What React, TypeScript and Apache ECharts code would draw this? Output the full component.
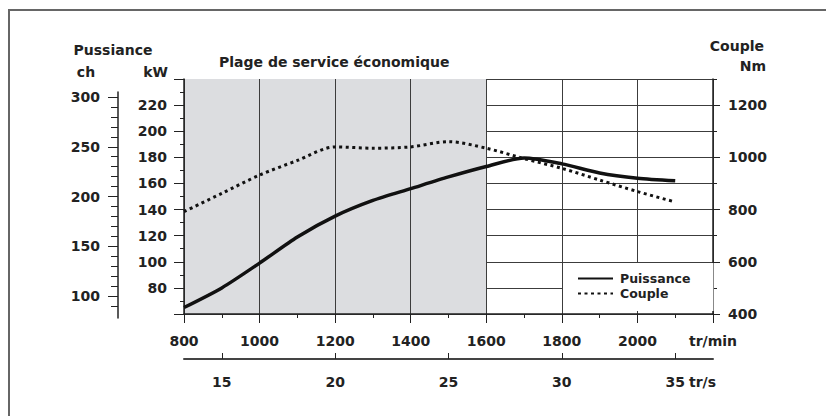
import React, { useEffect, useRef } from "react";
import * as echarts from "echarts";

// ---- data ----
const RPM = [800, 900, 1000, 1100, 1200, 1300, 1400, 1500, 1600, 1700, 1800, 1900, 2000, 2100];
const PUISSANCE_KW = [65, 80, 99, 119, 135, 147, 156, 165, 173, 179.5, 175, 168, 164, 162];
const COUPLE_NM = [792, 862, 932, 988, 1040, 1035, 1040, 1060, 1035, 995, 958, 913, 869, 829];

const SERIES_NAMES = ["Puissance", "Couple"];

// ---- axes / ticks ----
const RPM_MIN = 800;
const RPM_MAX = 2200;
const RPM_STEP = 200;
const ECO_RANGE_END = 1600; // "Plage de service économique" 800..1600

const KW_MIN = 60;
const KW_MAX = 240;
const KW_STEP = 20;

const NM_MIN = 400;
const NM_MAX = 1300;
const NM_MAJOR = [400, 600, 800, 1000, 1200];
const NM_MINOR = [500, 700, 900, 1100, 1300];

const CH_MIN = 78;
const CH_MAX = 305;
const CH_MAJOR = [100, 150, 200, 250, 300];
const CH_MINOR = [90, 110, 120, 130, 140, 160, 170, 180, 190, 210, 220, 230, 240, 260, 270, 280, 290];

const TRS_TICKS = [15, 20, 25, 30, 35];

const FONT = "'DejaVu Sans', 'Liberation Sans', sans-serif";
const TXT = "#222";
const AXIS = "#222";
const GRIDC = "#3c3c3c";
const SHADE = "#dcdde0";

export default function App() {
  const ref = useRef<HTMLDivElement>(null);

  useEffect(() => {
    if (!ref.current) return;
    const chart = echarts.init(ref.current, undefined, { renderer: "svg" });

    const nIntervals = (RPM_MAX - RPM_MIN) / RPM_STEP;
    const shadeColors: string[] = [];
    for (let i = 0; i < nIntervals; i++) {
      const start = RPM_MIN + i * RPM_STEP;
      shadeColors.push(start < ECO_RANGE_END ? SHADE : "rgba(255,255,255,0)");
    }

    const label = { fontFamily: FONT, fontWeight: "bold" as const, fontSize: 14, color: TXT };
    const plain = (v: number) => String(v);

    const option: any = {
      animation: false,
      backgroundColor: "#fff",
      grid: [
        { left: 184, top: 79, width: 529, height: 235 },
        { left: 118, top: 92, width: 1, height: 226 },
      ],
      xAxis: [
        {
          type: "value",
          gridIndex: 0,
          min: RPM_MIN,
          max: RPM_MAX,
          interval: RPM_STEP,
          position: "bottom",
          axisLine: { show: true, lineStyle: { color: AXIS, width: 1.5 } },
          axisTick: { show: true, length: 9, lineStyle: { color: AXIS, width: 1 } },
          minorTick: { show: true, splitNumber: 2, length: 4, lineStyle: { color: AXIS, width: 1 } },
          splitLine: { show: true, lineStyle: { color: GRIDC, width: 1 } },
          splitArea: { show: true, areaStyle: { color: shadeColors } },
          axisLabel: {
            ...label,
            margin: 20,
            formatter: (v: number) => (v === RPM_MAX ? "tr/min" : String(v)),
          },
        },
        {
          type: "value",
          gridIndex: 0,
          min: RPM_MIN / 60,
          max: RPM_MAX / 60,
          position: "bottom",
          offset: 45,
          axisLine: { show: true, lineStyle: { color: "#444", width: 2 } },
          axisTick: { show: true, inside: true, length: 6, customValues: TRS_TICKS, lineStyle: { color: AXIS, width: 1 } },
          axisLabel: { ...label, margin: 16, customValues: TRS_TICKS, formatter: plain },
          splitLine: { show: false },
        },
        { type: "value", gridIndex: 1, show: false, min: 0, max: 1 },
      ],
      yAxis: [
        {
          type: "value",
          gridIndex: 0,
          position: "left",
          min: KW_MIN,
          max: KW_MAX,
          interval: KW_STEP,
          axisLine: { show: true, lineStyle: { color: AXIS, width: 1.5 } },
          axisTick: { show: true, length: 10, lineStyle: { color: AXIS, width: 1 } },
          minorTick: { show: true, splitNumber: 2, length: 4, lineStyle: { color: AXIS, width: 1 } },
          splitLine: { show: true, lineStyle: { color: GRIDC, width: 1 } },
          axisLabel: { ...label, margin: 17, showMinLabel: false, showMaxLabel: false, formatter: plain },
        },
        {
          type: "value",
          gridIndex: 0,
          position: "right",
          min: NM_MIN,
          max: NM_MAX,
          axisLine: { show: true, lineStyle: { color: AXIS, width: 1.5 } },
          axisTick: { show: true, length: 7, customValues: NM_MAJOR, lineStyle: { color: AXIS, width: 1 } },
          splitLine: { show: false },
          axisLabel: { ...label, margin: 15, customValues: NM_MAJOR, formatter: plain },
        },
        {
          type: "value",
          gridIndex: 0,
          position: "right",
          min: NM_MIN,
          max: NM_MAX,
          axisLine: { show: false },
          axisTick: { show: true, length: 4, customValues: NM_MINOR, lineStyle: { color: AXIS, width: 1 } },
          splitLine: { show: false },
          axisLabel: { show: false },
        },
        {
          type: "value",
          gridIndex: 1,
          position: "left",
          min: CH_MIN,
          max: CH_MAX,
          axisLine: { show: true, lineStyle: { color: AXIS, width: 1.5 } },
          axisTick: { show: true, length: 10, customValues: CH_MAJOR, lineStyle: { color: AXIS, width: 1 } },
          splitLine: { show: false },
          axisLabel: { ...label, margin: 18, customValues: CH_MAJOR, formatter: plain },
        },
        {
          type: "value",
          gridIndex: 1,
          position: "left",
          min: CH_MIN,
          max: CH_MAX,
          axisLine: { show: false },
          axisTick: { show: true, length: 7, customValues: CH_MINOR, lineStyle: { color: AXIS, width: 1 } },
          splitLine: { show: false },
          axisLabel: { show: false },
        },
      ],
      legend: {
        data: SERIES_NAMES,
        orient: "vertical",
        left: 563,
        top: 263,
        padding: [9, 23, 11, 14],
        itemWidth: 35,
        itemHeight: 14,
        itemGap: 2,
        backgroundColor: "#fff",
        itemStyle: { color: "rgba(0,0,0,0)", borderColor: "rgba(0,0,0,0)", borderWidth: 0 },
        textStyle: { fontFamily: FONT, fontWeight: "bold", fontSize: 12.5, color: TXT, padding: [0, 0, 0, 2] },
      },
      series: [
        {
          name: SERIES_NAMES[0],
          type: "line",
          xAxisIndex: 0,
          yAxisIndex: 0,
          data: RPM.map((r, i) => [r, PUISSANCE_KW[i]]),
          symbol: "none",
          smooth: 0.25,
          color: "#111",
          lineStyle: { color: "#111", width: 3.5 },
          z: 5,
        },
        {
          name: SERIES_NAMES[1],
          type: "line",
          xAxisIndex: 0,
          yAxisIndex: 1,
          data: RPM.map((r, i) => [r, COUPLE_NM[i]]),
          symbol: "none",
          smooth: 0.3,
          color: "#111",
          lineStyle: { color: "#111", width: 3, type: [3, 3.5], cap: "butt" },
          z: 5,
        },
      ],
      graphic: [
        {
          type: "polyline",
          shape: { points: [[9, 416], [9, 10], [826, 10]] },
          style: { stroke: "#666", lineWidth: 2, fill: "none" },
          silent: true,
        },
        { type: "text", style: { text: "Pussiance", x: 113, y: 50, align: "center", verticalAlign: "middle", font: `bold 14px ${FONT}`, fill: TXT } },
        { type: "text", style: { text: "ch", x: 86, y: 72, align: "center", verticalAlign: "middle", font: `bold 14px ${FONT}`, fill: TXT } },
        { type: "text", style: { text: "kW", x: 168, y: 72, align: "right", verticalAlign: "middle", font: `bold 14px ${FONT}`, fill: TXT } },
        { type: "text", style: { text: "Plage de service économique", x: 219, y: 62, align: "left", verticalAlign: "middle", font: `bold 14px ${FONT}`, fill: TXT } },
        { type: "text", style: { text: "Couple", x: 764, y: 46, align: "right", verticalAlign: "middle", font: `bold 14px ${FONT}`, fill: TXT } },
        { type: "text", style: { text: "Nm", x: 766, y: 66, align: "right", verticalAlign: "middle", font: `bold 14px ${FONT}`, fill: TXT } },
        { type: "text", style: { text: "tr/s", x: 689, y: 382, align: "left", verticalAlign: "middle", font: `bold 14px ${FONT}`, fill: TXT } },
      ],
    };

    chart.setOption(option);
    return () => chart.dispose();
  }, []);

  return (
    <div
      ref={ref}
      style={{ position: "fixed", left: 0, top: 0, width: 826, height: 416, background: "#fff" }}
    />
  );
}
